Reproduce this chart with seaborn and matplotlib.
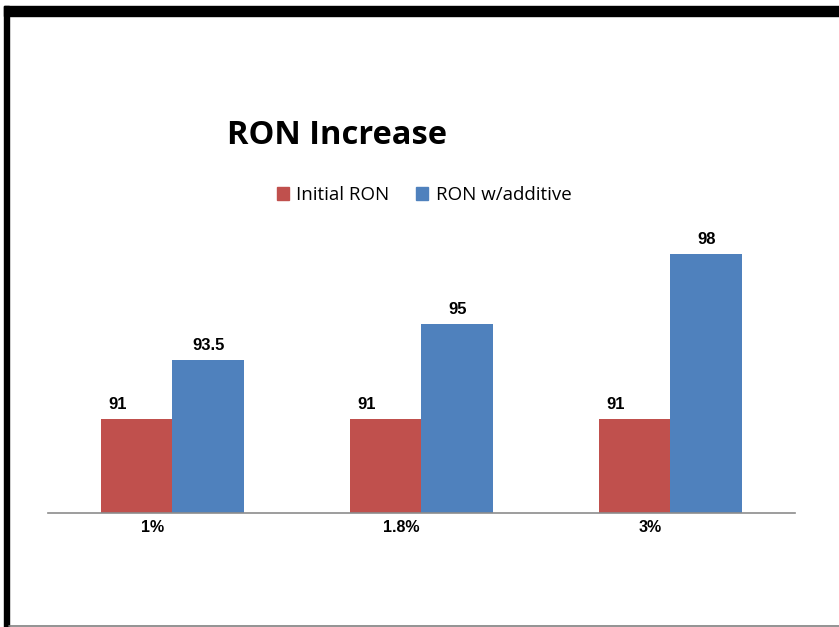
import pandas as pd
import matplotlib.pyplot as plt
import seaborn as sns
from matplotlib.patches import Rectangle
from matplotlib.lines import Line2D
from matplotlib.transforms import ScaledTranslation

# 数据
concentrations = ['1%', '1.8%', '3%']
initial_ron = [91, 91, 91]
ron_additive = [93.5, 95, 98]
series_names = ['Initial RON', 'RON w/additive']
colors = ['#C0504D', '#4F81BD']

df = pd.DataFrame({
    'Concentration': concentrations * 2,
    'RON': initial_ron + ron_additive,
    'Series': [series_names[0]] * 3 + [series_names[1]] * 3,
})

sns.set_style('white')
plt.rcParams['font.family'] = ['Liberation Sans', 'DejaVu Sans']
plt.rcParams['text.color'] = 'black'
plt.rcParams['xtick.color'] = 'black'

fig = plt.figure(figsize=(8.39, 6.27), dpi=100)
W, H = 839, 627

# 坐标区域 (像素换算)
ax = fig.add_axes([48 / W, (H - 513) / H, (795 - 48) / W, (513 - 230) / H])
sns.barplot(data=df, x='Concentration', y='RON', hue='Series', palette=colors,
            width=0.573, gap=0, saturation=1, ax=ax, legend=False, linewidth=0)

ax.set_ylim(87, 99)
ax.set_xlim(-0.5, 2.5)
ax.set_xlabel('')
ax.set_ylabel('')
ax.set_yticks([])
for s in ['top', 'right', 'left']:
    ax.spines[s].set_visible(False)
ax.spines['bottom'].set_color('#8c8c8c')
ax.spines['bottom'].set_linewidth(1.2)
ax.tick_params(axis='x', length=0, pad=5, colors='black')
ax.set_xticks(range(len(concentrations)))
ax.set_xticklabels(concentrations, fontsize=11.5, fontweight='bold')
# Excel 的标签略微偏左
for lbl in ax.get_xticklabels():
    lbl.set_transform(lbl.get_transform() + ScaledTranslation(-0.2, 0, fig.dpi_scale_trans))

# 数据标签
for i, cont in enumerate(ax.containers):
    dx = -14 if i == 0 else 0
    for bar, val in zip(cont, [initial_ron, ron_additive][i]):
        ax.annotate(f'{val:g}', xy=(bar.get_x() + bar.get_width() / 2, bar.get_height()),
                    xytext=(dx, 5), textcoords='offset points', ha='center', va='bottom',
                    fontsize=12, fontweight='bold', color='black')

# 标题
fig.text(227 / W, 1 - 136 / H, 'RON Increase', fontsize=23.5, fontweight='bold',
         family=['Open Sans', 'DejaVu Sans'], ha='left', va='center', color='black')

# 图例
handles = [Rectangle((0, 0), 1, 1, color=c) for c in colors]
fig.legend(handles, series_names, loc='center', bbox_to_anchor=(424 / W, 1 - 195 / H),
           ncol=2, frameon=False, prop={'family': ['Open Sans', 'DejaVu Sans'], 'size': 13.5},
           handlelength=0.65, handleheight=0.65, handletextpad=0.4, columnspacing=1.4)

# 外框
fig.add_artist(Rectangle((4 / W, 1 - 16 / H), 1, 10 / H, color='black', transform=fig.transFigure))
fig.add_artist(Rectangle((4 / W, 0), 5 / W, 1 - 6 / H, color='black', transform=fig.transFigure))
fig.add_artist(Line2D([9 / W, 1], [1.5 / H, 1.5 / H], color='#808080', lw=1.2, transform=fig.transFigure))

fig.savefig('out.png', dpi=100)
